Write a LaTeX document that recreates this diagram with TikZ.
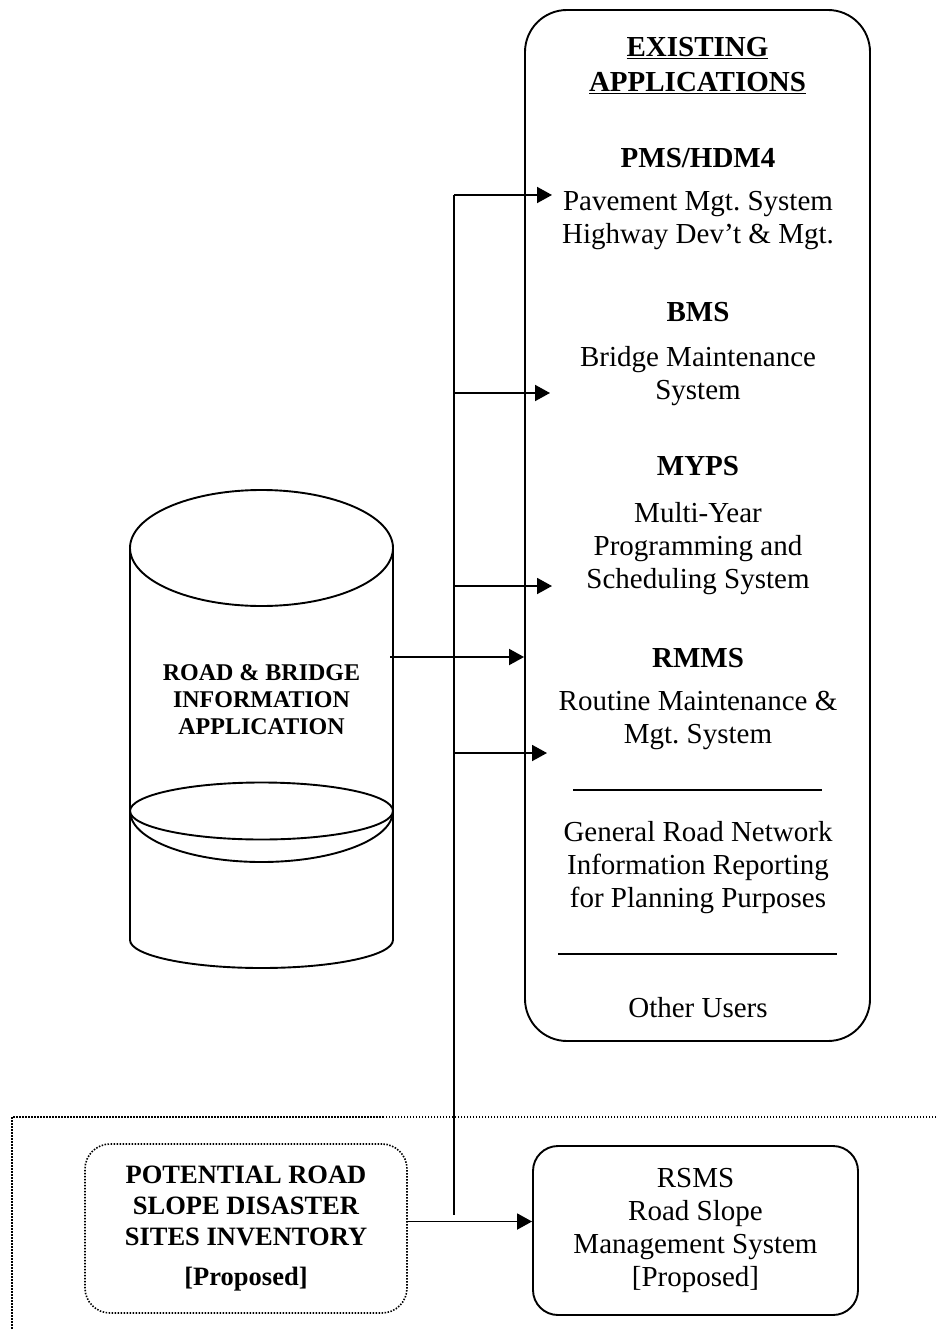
\documentclass[tikz,border=0pt]{standalone}
\usepackage{fontspec}
\setmainfont{Liberation Serif}
\usetikzlibrary{arrows.meta}
\frenchspacing

\begin{document}
\begin{tikzpicture}[x=1pt,y=-1pt,
  line width=1.9pt,
  txt/.style={font=\fontsize{29}{33}\selectfont, align=center, inner sep=0pt},
  head/.style={txt, font=\fontsize{29}{33}\selectfont\bfseries},
  arr/.style={-{Triangle[length=15pt,width=16pt]}},
  dots/.style={line width=1.6pt, dash pattern=on 1.5pt off 1.5pt},
  appbox/.style={draw, rounded corners=42pt, minimum width=345pt, minimum height=1031pt, inner sep=0pt},
  propbox/.style={draw, dots, rounded corners=25pt,
    minimum width=322pt, minimum height=169pt, align=center, inner sep=0pt,
    font=\fontsize{26.5}{31}\selectfont\bfseries},
  rsmsbox/.style={draw, rounded corners=25pt, minimum width=325pt, minimum height=169pt,
    align=center, inner sep=0pt, font=\fontsize{29}{33}\selectfont},
  rulebar/.style={line width=1.4pt}]
\useasboundingbox (0,0) rectangle (936,1329);

% existing applications panel
\node[appbox] (apps) at (697.5,525.5) {};
\node[head, font=\fontsize{29}{35}\selectfont\bfseries] (title) at (697.5,66)
  {\underline{EXISTING}\\\underline{APPLICATIONS}};
\node[head] (pmsh) at (698,158) {PMS/HDM4};
\node[txt] (pms) at (698,221) {Pavement Mgt. System\\Highway Dev't \& Mgt.};
\node[head] (bmsh) at (698,312) {BMS};
\node[txt] (bms) at (698,376) {Bridge Maintenance\\System};
\node[head] (mypsh) at (698,466) {MYPS};
\node[txt] (myps) at (698,548.5) {Multi-Year\\Programming and\\Scheduling System};
\node[head] (rmmsh) at (698,658) {RMMS};
\node[txt] (rmms) at (698,720) {Routine Maintenance \&\\Mgt. System};
\draw[rulebar] (573,790) -- (822,790);
\node[txt] (gen) at (698,868) {General Road Network\\Information Reporting\\for Planning Purposes};
\draw[rulebar] (558,954) -- (837,954);
\node[txt] (other) at (698,1008) {Other Users};

% database cylinder
\draw (261.5,548) ellipse [x radius=131.5pt, y radius=58pt];
\draw (130,548) -- (130,940);
\draw (393,548) -- (393,940);
\draw (130,940) arc [start angle=180, end angle=360, x radius=131.5pt, y radius=28pt];
\draw (261.5,811) ellipse [x radius=131.5pt, y radius=28.5pt];
\draw (130,811) arc [start angle=180, end angle=360, x radius=131.5pt, y radius=51pt];
\node[head, font=\fontsize{24}{27}\selectfont\bfseries] (db) at (261.5,700)
  {ROAD \& BRIDGE\\INFORMATION\\APPLICATION};

% distribution trunk and feeds
\coordinate (trunkTop) at (454,195);
\coordinate (trunkBot) at (454,1215);
\draw (trunkTop) -- (trunkBot);
\coordinate (f1) at (454,195);  \coordinate (g1) at (552,195);
\coordinate (f2) at (454,393);  \coordinate (g2) at (550,393);
\coordinate (f3) at (454,586);  \coordinate (g3) at (552,586);
\coordinate (f4) at (454,753);  \coordinate (g4) at (547,753);
\draw[arr] (f1) -- (g1);
\draw[arr] (f2) -- (g2);
\draw[arr] (f3) -- (g3);
\draw[arr] (f4) -- (g4);
\coordinate (cylR) at (390,657);
\draw[arr] (cylR) -- (cylR -| apps.west);

% proposed extension area
\begin{scope}
  \clip (0,0) rectangle (936,1329);
  \draw[dots] (12,1117) rectangle (960,1360);
\end{scope}
\node[propbox] (inv) at (246,1228.5)
  {POTENTIAL ROAD\\SLOPE DISASTER\\SITES INVENTORY\\[9pt]{[Proposed]}};
\node[rsmsbox] (rsms) at (695.5,1230.5)
  {RSMS\\Road Slope\\Management System\\{[Proposed]}};
\draw[arr] ([yshift=7pt]inv.east) -- ([yshift=7pt]inv.east -| rsms.west);
\end{tikzpicture}
\end{document}
